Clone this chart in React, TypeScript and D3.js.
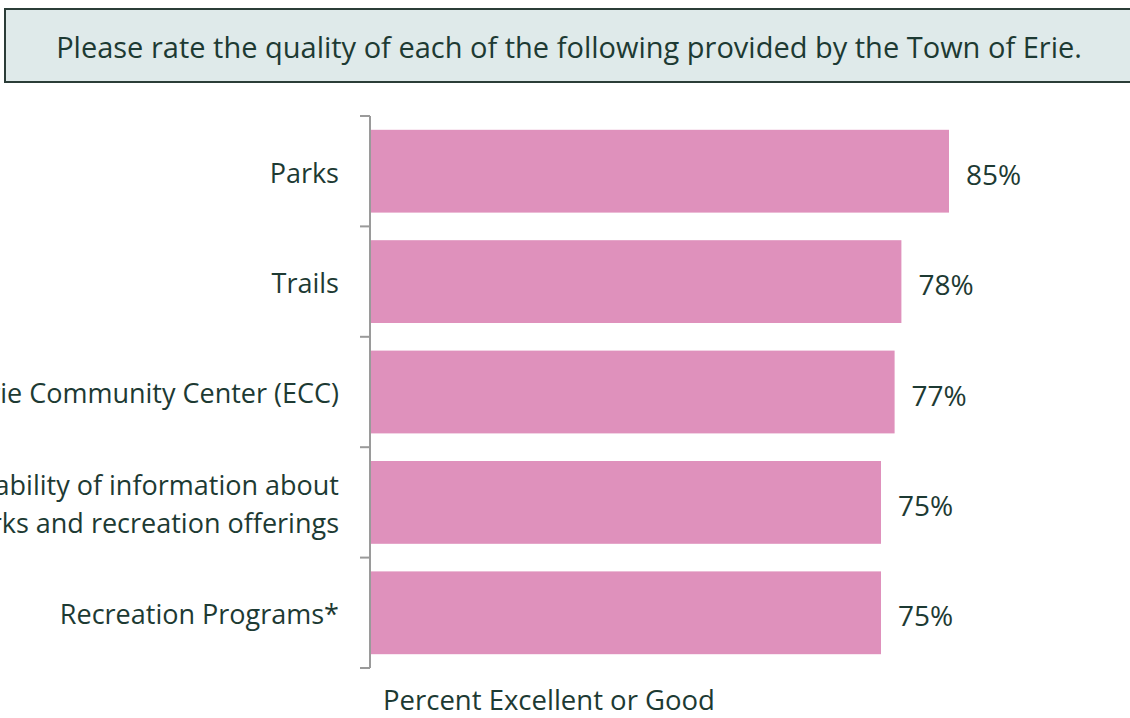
import React, { useRef, useEffect } from 'react';
import * as d3 from 'd3';

const categories = [
  ['Parks'],
  ['Trails'],
  ['Erie Community Center (ECC)'],
  ['Availability of information about', 'parks and recreation offerings'],
  ['Recreation Programs*'],
];
const values = [85, 78, 77, 75, 75];
const title = 'Please rate the quality of each of the following provided by the Town of Erie.';
const axisTitle = 'Percent Excellent or Good';

const W = 1130;
const H = 718;
const FONT = '"Open Sans", "Noto Sans", sans-serif';
const TEXT = '#1d3a33';

function App() {
  const ref = useRef<SVGSVGElement>(null);

  useEffect(() => {
    const svg = d3.select(ref.current);
    svg.selectAll('*').remove();

    // title box
    svg
      .append('rect')
      .attr('x', 5)
      .attr('y', 9)
      .attr('width', W + 10)
      .attr('height', 73)
      .attr('fill', '#dfeaea')
      .attr('stroke', '#2b3d38')
      .attr('stroke-width', 2);
    svg
      .append('text')
      .attr('x', 569)
      .attr('y', 58)
      .attr('text-anchor', 'middle')
      .style('font-family', FONT)
      .style('font-size', '29px')
      .style('fill', TEXT)
      .text(title);

    const idx = categories.map((_, i) => String(i));
    const y = d3.scaleBand().domain(idx).range([116, 668]).paddingInner(0.25).paddingOuter(0.125);
    const x = d3.scaleLinear().domain([0, 100]).range([371, 1051]);

    // bars
    svg
      .selectAll('.bar')
      .data(values)
      .join('rect')
      .attr('class', 'bar')
      .attr('x', x(0))
      .attr('y', (d, i) => y(String(i))!)
      .attr('width', d => x(d) - x(0))
      .attr('height', y.bandwidth())
      .attr('fill', '#df91bc');

    // value labels
    svg
      .selectAll('.val')
      .data(values)
      .join('text')
      .attr('class', 'val')
      .attr('x', d => x(d) + 17)
      .attr('y', (d, i) => y(String(i))! + y.bandwidth() / 2 + 3)
      .attr('dy', '0.38em')
      .style('font-family', FONT)
      .style('font-size', '28px')
      .style('fill', TEXT)
      .text(d => `${d}%`);

    // axis line + boundary ticks
    const step = y.step();
    const bounds = d3.range(categories.length + 1).map(i => 116 + i * step);
    svg
      .append('line')
      .attr('x1', 370)
      .attr('x2', 370)
      .attr('y1', 116)
      .attr('y2', 668)
      .attr('stroke', '#9a9a9a')
      .attr('stroke-width', 2);
    svg
      .selectAll('.tick')
      .data(bounds)
      .join('line')
      .attr('class', 'tick')
      .attr('x1', 360)
      .attr('x2', 370)
      .attr('y1', d => d)
      .attr('y2', d => d)
      .attr('stroke', '#9a9a9a')
      .attr('stroke-width', 2);

    // category labels
    const lineH = 38;
    svg
      .selectAll('.cat')
      .data(categories)
      .join('text')
      .attr('class', 'cat')
      .attr('text-anchor', 'end')
      .style('font-family', FONT)
      .style('font-size', '27px')
      .style('fill', TEXT)
      .each(function (d, i) {
        const cy = y(String(i))! + y.bandwidth() / 2 + 2 - ((d.length - 1) * lineH) / 2;
        d.forEach((line, j) => {
          d3.select(this)
            .append('tspan')
            .attr('x', 339)
            .attr('y', cy + j * lineH)
            .attr('dy', '0.35em')
            .text(line);
        });
      });

    // axis title
    svg
      .append('text')
      .attr('x', 549)
      .attr('y', 710)
      .attr('text-anchor', 'middle')
      .style('font-family', FONT)
      .style('font-size', '27.5px')
      .style('fill', TEXT)
      .text(axisTitle);
  }, []);

  return (
    <div style={{ position: 'absolute', left: 0, top: 0, width: W, height: H, overflow: 'hidden', background: '#fff' }}>
      <svg ref={ref} width={W} height={H} />
    </div>
  );
}

export default App;
